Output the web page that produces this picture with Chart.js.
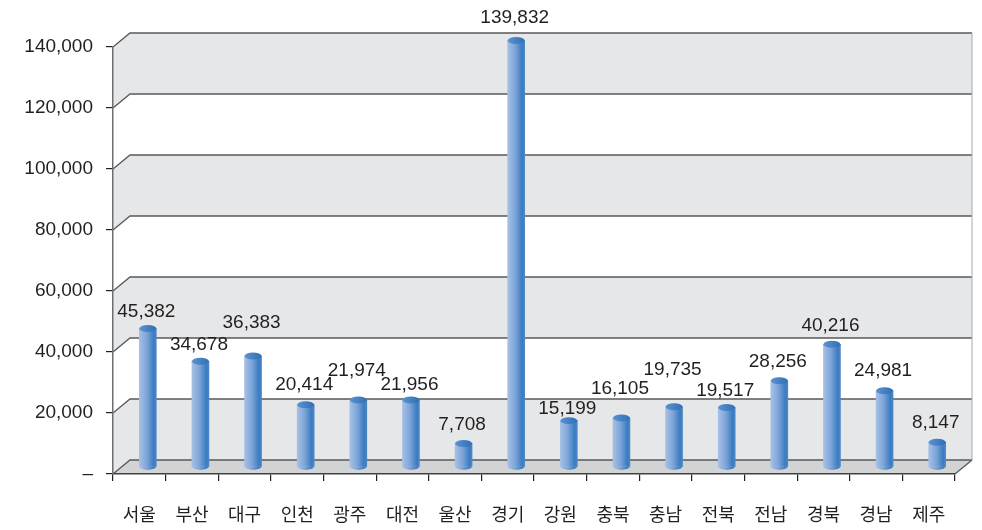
<!DOCTYPE html>
<html>
<head>
<meta charset="utf-8">
<script src="https://cdn.jsdelivr.net/npm/chart.js@4.4.1/dist/chart.umd.min.js"></script>
<style>
  html, body { margin: 0; padding: 0; background: #fff; }
  #wrap { width: 982px; height: 530px; }
</style>
</head>
<body>
<div id="wrap"><canvas id="chart" width="982" height="530"></canvas></div>
<script>
var regions = ['서울', '부산', '대구', '인천', '광주', '대전', '울산', '경기', '강원', '충북', '충남', '전북', '전남', '경북', '경남', '제주'];
var counts = [45382, 34678, 36383, 20414, 21974, 21956, 7708, 139832, 15199, 16105, 19735, 19517, 28256, 40216, 24981, 8147];
var yTicks = [0, 20000, 40000, 60000, 80000, 100000, 120000, 140000];

(function () {
    // 3d depth of the wall, and half of it for the bars
    var depthX = 17, depthY = -14;
    var barDX = 8.5, barDY = -7;
    var numFont = '19px "Liberation Sans", Arial, sans-serif';
    // how far each value label sits above its bar (hand placed in the original)
    var labelLift = [17, 16, 33, 20, 29, 15, 19, 23, 12, 29, 37, 17, 19, 19, 20, 19];

    var fmt = function (v) {
        return v.toLocaleString('en-US');
    };

    var bodyGradient = function (ctx, cx) {
        var g = ctx.createLinearGradient(cx - 8.5, 0, cx + 8.5, 0);
        g.addColorStop(0, '#a6c0e5');
        g.addColorStop(0.45, '#7ba4d8');
        g.addColorStop(0.85, '#3a7bc0');
        g.addColorStop(1, '#4d88c7');
        return g;
    };

    var wall = {
        id: 'wall',
        beforeDraw: function (chart) {
            var ctx = chart.ctx;
            var ys = chart.scales.y;
            var area = chart.chartArea;
            var L = area.left, R = area.right;
            var yf = function (v) { return ys.getPixelForValue(v); };

            ctx.save();
            ctx.fillStyle = '#fff';
            ctx.fillRect(0, 0, chart.width, chart.height);

            // shaded bands on side and back wall
            ctx.fillStyle = '#e6e7e8';
            for (var i = 0; i < yTicks.length - 1; i += 2) {
                var a = yf(yTicks[i]), b = yf(yTicks[i + 1]);
                ctx.beginPath();
                ctx.moveTo(L, a);
                ctx.lineTo(L + depthX, a + depthY);
                ctx.lineTo(R + depthX, a + depthY);
                ctx.lineTo(R + depthX, b + depthY);
                ctx.lineTo(L + depthX, b + depthY);
                ctx.lineTo(L, b);
                ctx.closePath();
                ctx.fill();
            }

            // floor
            var f = yf(0);
            ctx.fillStyle = '#d1d3d4';
            ctx.beginPath();
            ctx.moveTo(L, f);
            ctx.lineTo(L + depthX, f + depthY);
            ctx.lineTo(R + depthX, f + depthY);
            ctx.lineTo(R, f);
            ctx.closePath();
            ctx.fill();

            // grid lines on the wall
            ctx.strokeStyle = '#58595b';
            ctx.lineWidth = 1.3;
            yTicks.forEach(function (v) {
                var y = yf(v);
                ctx.beginPath();
                ctx.moveTo(L, y);
                ctx.lineTo(L + depthX, y + depthY);
                ctx.lineTo(R + depthX, y + depthY);
                ctx.stroke();
            });
            ctx.beginPath();
            ctx.moveTo(R, f);
            ctx.lineTo(R + depthX, f + depthY);
            ctx.stroke();

            ctx.strokeStyle = '#a7a9ac';
            ctx.lineWidth = 1;
            ctx.beginPath();
            ctx.moveTo(R + depthX, yf(140000) + depthY);
            ctx.lineTo(R + depthX, f + depthY);
            ctx.stroke();
            ctx.restore();
        },
        beforeDatasetsDraw: function (chart) {
            var ctx = chart.ctx;
            chart.getDatasetMeta(0).data.forEach(function (bar) {
                bar.options = Object.assign({}, bar.options, { backgroundColor: bodyGradient(ctx, bar.x) });
            });
            ctx.save();
            ctx.translate(barDX, barDY);
        },
        afterDatasetsDraw: function (chart) {
            var ctx = chart.ctx;
            var meta = chart.getDatasetMeta(0);
            meta.data.forEach(function (bar, i) {
                var cx = bar.x, top = bar.y, base = bar.base;
                var rx = 8.5, ry = 3.5;

                // rounded bottom
                ctx.fillStyle = bodyGradient(ctx, cx);
                ctx.beginPath();
                ctx.ellipse(cx, base, rx, ry, 0, 0, Math.PI);
                ctx.fill();

                // top cap
                var tg = ctx.createLinearGradient(cx - rx, 0, cx + rx, 0);
                tg.addColorStop(0, '#5b92cf');
                tg.addColorStop(1, '#2f70b6');
                ctx.fillStyle = tg;
                ctx.beginPath();
                ctx.ellipse(cx, top, rx, ry, 0, 0, Math.PI * 2);
                ctx.fill();

                // value label
                ctx.fillStyle = '#231f20';
                ctx.font = numFont;
                ctx.textAlign = 'center';
                ctx.textBaseline = 'middle';
                ctx.fillText(fmt(counts[i]), cx - 1.5, top - labelLift[i]);
            });
            ctx.restore();
        }
    };

    var config = {
        type: 'bar',
        data: {
            labels: regions,
            datasets: [{
                data: counts,
                backgroundColor: '#5d93cf',
                borderWidth: 0,
                barThickness: 17,
                clip: false
            }]
        },
        options: {
            responsive: false,
            animation: false,
            devicePixelRatio: 1,
            layout: { padding: { top: 47, right: 27, left: 0, bottom: 0 } },
            plugins: {
                legend: { display: false },
                tooltip: { enabled: false }
            },
            scales: {
                x: {
                    afterFit: function (scale) { scale.height = 56; },
                    grid: { display: true, drawOnChartArea: false, drawTicks: true, tickLength: 7, color: '#231f20', lineWidth: 1.2 },
                    border: { display: true, color: '#414042', width: 1.5 },
                    ticks: {
                        autoSkip: false,
                        maxRotation: 0,
                        padding: 22,
                        color: '#231f20',
                        font: { family: '"Noto Sans CJK KR", sans-serif', size: 18 }
                    }
                },
                y: {
                    min: 0,
                    max: 140000,
                    afterFit: function (scale) { scale.width = 113; },
                    grid: { display: true, drawOnChartArea: false, drawTicks: true, tickLength: 7, color: '#231f20', lineWidth: 1.2 },
                    border: { display: true, color: '#6d6e71', width: 1.5 },
                    ticks: {
                        stepSize: 20000,
                        padding: 13,
                        color: '#231f20',
                        font: { family: '"Liberation Sans", Arial, sans-serif', size: 19 },
                        callback: function (v) { return v === 0 ? '–' : fmt(v); }
                    }
                }
            }
        },
        plugins: [wall]
    };

    new Chart(document.getElementById('chart').getContext('2d'), config);
})();
</script>
</body>
</html>
